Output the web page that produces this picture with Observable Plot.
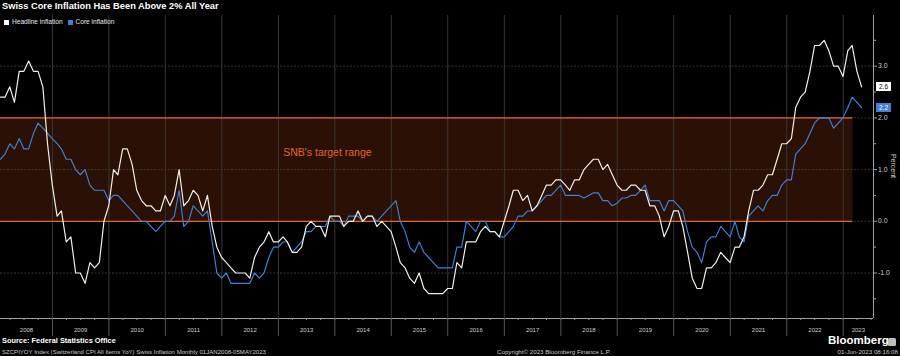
<!DOCTYPE html>
<html><head><meta charset="utf-8">
<script src="https://cdn.jsdelivr.net/npm/d3@7"></script>
<script src="https://cdn.jsdelivr.net/npm/@observablehq/plot@0.6"></script>
<style>
html,body{margin:0;padding:0;background:#000;}
#wrap{position:relative;width:900px;height:356px;overflow:hidden;background:#000;font-family:"Liberation Sans",Arial,sans-serif;}
#wrap svg{position:absolute;left:0;top:0;}
.t{position:absolute;white-space:nowrap;color:#fff;line-height:1;}
</style></head><body><div id="wrap"></div>
<script>
// ---- data (monthly YoY %, Jan 2008 .. Apr 2023) ----
const startYear = 2008;
const headline = [
2.4,2.4,2.6,2.3,2.9,2.9,3.1,2.9,2.9,2.6,1.5,0.7,
0.1,0.2,-0.4,-0.3,-1.0,-1.0,-1.2,-0.8,-0.9,-0.8,0.0,0.3,
1.0,0.9,1.4,1.4,1.1,0.6,0.4,0.3,0.3,0.2,0.2,0.5,
0.3,0.5,1.0,0.3,0.4,0.6,0.5,0.2,0.5,-0.1,-0.5,-0.7,
-0.8,-0.9,-1.0,-1.0,-1.0,-1.1,-0.7,-0.5,-0.4,-0.2,-0.4,-0.4,
-0.3,-0.4,-0.6,-0.6,-0.5,-0.1,0.0,-0.1,-0.1,-0.3,0.1,0.1,
0.1,-0.1,0.0,0.0,0.2,0.0,0.1,0.1,-0.1,0.0,-0.1,-0.2,
-0.5,-0.8,-0.9,-1.1,-1.2,-1.0,-1.3,-1.4,-1.4,-1.4,-1.4,-1.3,
-1.3,-0.8,-0.9,-0.4,-0.4,-0.4,-0.2,-0.1,-0.2,-0.2,-0.3,0.0,
0.3,0.6,0.6,0.4,0.5,0.2,0.3,0.5,0.7,0.7,0.8,0.8,
0.7,0.6,0.8,0.8,1.0,1.1,1.2,1.2,1.0,1.1,0.9,0.7,
0.6,0.6,0.7,0.7,0.6,0.6,0.3,0.3,0.1,-0.3,-0.1,0.2,
0.2,-0.1,-0.6,-1.1,-1.3,-1.3,-0.9,-0.9,-0.8,-0.6,-0.7,-0.8,
-0.5,-0.5,-0.3,0.2,0.6,0.6,0.7,0.9,0.9,1.2,1.5,1.5,
1.6,2.2,2.4,2.5,2.9,3.4,3.4,3.5,3.3,3.0,3.0,2.8,
3.3,3.4,2.9,2.6
];
const core = [
1.2,1.3,1.5,1.4,1.6,1.4,1.4,1.7,1.9,1.8,1.7,1.6,
1.5,1.4,1.2,1.2,1.0,0.9,1.0,0.7,0.6,0.6,0.6,0.4,
0.5,0.5,0.4,0.3,0.2,0.1,0.0,0.0,-0.1,-0.2,-0.1,0.0,
0.0,0.1,0.6,-0.1,0.0,0.3,0.2,0.1,0.2,-0.4,-1.0,-1.1,
-1.0,-1.2,-1.2,-1.2,-1.2,-1.2,-1.0,-1.1,-1.0,-0.7,-0.5,-0.5,
-0.4,-0.4,-0.6,-0.5,-0.4,-0.2,-0.2,-0.1,-0.1,-0.1,0.1,0.0,
0.0,-0.1,0.1,0.1,0.1,0.0,0.1,0.1,0.0,0.1,0.2,0.3,
0.4,0.0,-0.2,-0.5,-0.6,-0.4,-0.6,-0.7,-0.8,-0.9,-0.9,-0.9,
-0.9,-0.5,-0.5,0.0,-0.1,-0.2,0.0,0.0,-0.2,-0.2,-0.3,-0.3,
-0.2,-0.1,0.1,0.1,0.2,0.2,0.3,0.4,0.5,0.5,0.6,0.7,
0.5,0.5,0.5,0.5,0.45,0.5,0.55,0.55,0.4,0.4,0.3,0.35,
0.45,0.45,0.5,0.5,0.6,0.7,0.4,0.4,0.4,0.2,0.4,0.4,
0.3,0.2,-0.2,-0.5,-0.6,-0.8,-0.4,-0.3,-0.3,-0.1,-0.2,-0.3,
0.0,-0.3,-0.4,0.1,0.2,0.3,0.2,0.4,0.5,0.5,0.7,0.8,
0.8,1.3,1.4,1.5,1.7,1.9,2.0,2.0,2.0,1.8,1.9,2.0,
2.2,2.4,2.3,2.2
];
const seriesNames = ["Headline inflation", "Core inflation"];
const yTicks = [-1, 0, 1, 2, 3];
const yMinorTicks = [-1.5, -0.5, 0.5, 1.5, 2.5, 3.5];
const targetRange = [0, 2];
const targetEnd = "2023-03-05";
const annotation = {text: "SNB's target range", date: "2013-02-01", value: 1.33};

// ---- derived table ----
const rows = headline.map((h, i) => ({
  date: new Date(Date.UTC(startYear, i + 1, 0)),
  headline: h,
  core: core[i]
}));
const xDomain = [new Date(Date.UTC(2008, 0, 31)), new Date(Date.UTC(2023, 6, 16))];
const yDomain = [-1.88, 3.98];
const lastYear = 2023;
const yearStarts = d3.range(startYear + 1, lastYear + 1).map(y => new Date(Date.UTC(y, 0, 1)));
const yearLabels = d3.range(startYear, lastYear + 1).map(y => {
  const a = Math.max(Date.UTC(y, 0, 1), +xDomain[0]);
  const b = Math.min(Date.UTC(y + 1, 0, 1), +xDomain[1]);
  return new Date((a + b) / 2);
});
const quarterTicks = d3.utcMonth.every(3).range(xDomain[0], xDomain[1]);

const WHITE = "#f3eee4", BLUE = "#3f80d8", ORANGE = "#e4652b", BAND = "#2b1105";

const chart = Plot.plot({
  width: 900, height: 356,
  marginTop: 15, marginBottom: 38, marginLeft: 0, marginRight: 27,
  style: {background: "#000", color: "#c8c8c8", fontFamily: "'Liberation Sans', Arial, sans-serif", fontSize: "6.5px"},
  x: {type: "utc", domain: xDomain, axis: null},
  y: {domain: yDomain, axis: null},
  marks: [
    Plot.rect([targetRange], {x1: () => xDomain[0], x2: () => new Date(targetEnd), y1: d => d[0], y2: d => d[1], fill: BAND}),
    Plot.ruleY(yTicks, {stroke: "#4a4a4a", strokeWidth: 0.7, strokeDasharray: "2,1.5"}),
    Plot.ruleX(yearStarts, {stroke: "#363636", strokeWidth: 1}),
    Plot.ruleY(targetRange, {x1: () => xDomain[0], x2: () => new Date(targetEnd), stroke: ORANGE, strokeWidth: 1.3}),
    Plot.text([annotation], {x: d => new Date(d.date), y: "value", text: "text", textAnchor: "start", fill: ORANGE, fontSize: 10.5}),
    Plot.line(rows, {x: "date", y: "core", stroke: BLUE, strokeWidth: 1.15}),
    Plot.line(rows, {x: "date", y: "headline", stroke: WHITE, strokeWidth: 1.2}),
    // right axis
    Plot.ruleX([xDomain[1]], {stroke: "#a0a0a0", strokeWidth: 1}),
    Plot.axisY(yTicks, {anchor: "right", tickSize: 3, tickPadding: 1.5, tickFormat: d => d.toFixed(1), stroke: "#a0a0a0", fill: "#cfcfcf", fontSize: 6.8, label: null}),
    Plot.axisY(yMinorTicks, {anchor: "right", tickSize: 2, tickFormat: () => "", stroke: "#a0a0a0", label: null}),
    // bottom axis
    Plot.ruleY([yDomain[0]], {stroke: "#a0a0a0", strokeWidth: 1}),
    Plot.axisX(quarterTicks, {tickSize: 2, tickFormat: () => "", stroke: "#909090", label: null}),
    Plot.axisX(yearStarts, {tickSize: 18, tickFormat: () => "", stroke: "#555", label: null}),
    Plot.axisX(yearLabels, {tickSize: 0, tickPadding: 9, tickFormat: d => String(d.getUTCFullYear()), fill: "#cfcfcf", fontSize: 6, label: null})
  ]
});

const wrap = document.getElementById("wrap");
wrap.appendChild(chart);
function addText(txt, css) {
  const d = document.createElement("div");
  d.className = "t"; d.textContent = txt;
  Object.assign(d.style, css);
  wrap.appendChild(d); return d;
}
function addBox(css) {
  const d = document.createElement("div");
  d.style.position = "absolute";
  Object.assign(d.style, css);
  wrap.appendChild(d); return d;
}

// title and legend
addText("Swiss Core Inflation Has Been Above 2% All Year", {left: "2px", top: "1.5px", fontSize: "9.3px", fontWeight: "bold"});
addBox({left: "4px", top: "19.5px", width: "5px", height: "5px", background: "#fff"});
addText(seriesNames[0], {left: "12px", top: "19px", fontSize: "6.6px", color: "#e8e8e8"});
addBox({left: "68px", top: "19.5px", width: "5px", height: "5px", background: BLUE});
addText(seriesNames[1], {left: "75.5px", top: "19px", fontSize: "6.6px", color: "#e8e8e8"});

// axis label
const pl = addText("Percent", {left: "893px", top: "166px", fontSize: "7px", color: "#cfcfcf"});
pl.style.transform = "translate(-50%,-50%) rotate(90deg)";

// last-value labels
const ys = chart.scale("y");
const last = rows[rows.length - 1];
[[last.headline, "#fff", "#000"], [last.core, BLUE, "#fff"]].forEach(([v, bg, fg]) => {
  const yy = ys.apply(v);
  const b = addBox({left: "876px", top: (yy - 4.5) + "px", width: "15px", height: "9px", background: bg, color: fg,
    fontSize: "6.5px", lineHeight: "9px", textAlign: "center", fontFamily: "'Liberation Sans', Arial, sans-serif"});
  b.textContent = v.toFixed(1);
});

// footer
addText("Source: Federal Statistics Office", {left: "2px", top: "337px", fontSize: "7.4px", fontWeight: "bold"});
addText("SZCPIYOY Index (Switzerland CPI All Items YoY) Swiss Inflation  Monthly 01JAN2008-05MAY2023", {left: "2px", top: "349px", fontSize: "6.05px", color: "#c8c8c8"});
addText("Copyright\u00A9 2023 Bloomberg Finance L.P.", {left: "497px", top: "349px", fontSize: "6.2px", color: "#c8c8c8"});
addText("Bloomberg", {left: "828px", top: "335px", fontSize: "11.5px", fontWeight: "bold"});
addBox({left: "888px", top: "337.5px", width: "8px", height: "8px", background: "#bdbdbd", borderRadius: "1.5px"});
addText("01-Jun-2023 08:16:08", {right: "2px", top: "349px", fontSize: "6.2px", color: "#c8c8c8"});
</script></body></html>
